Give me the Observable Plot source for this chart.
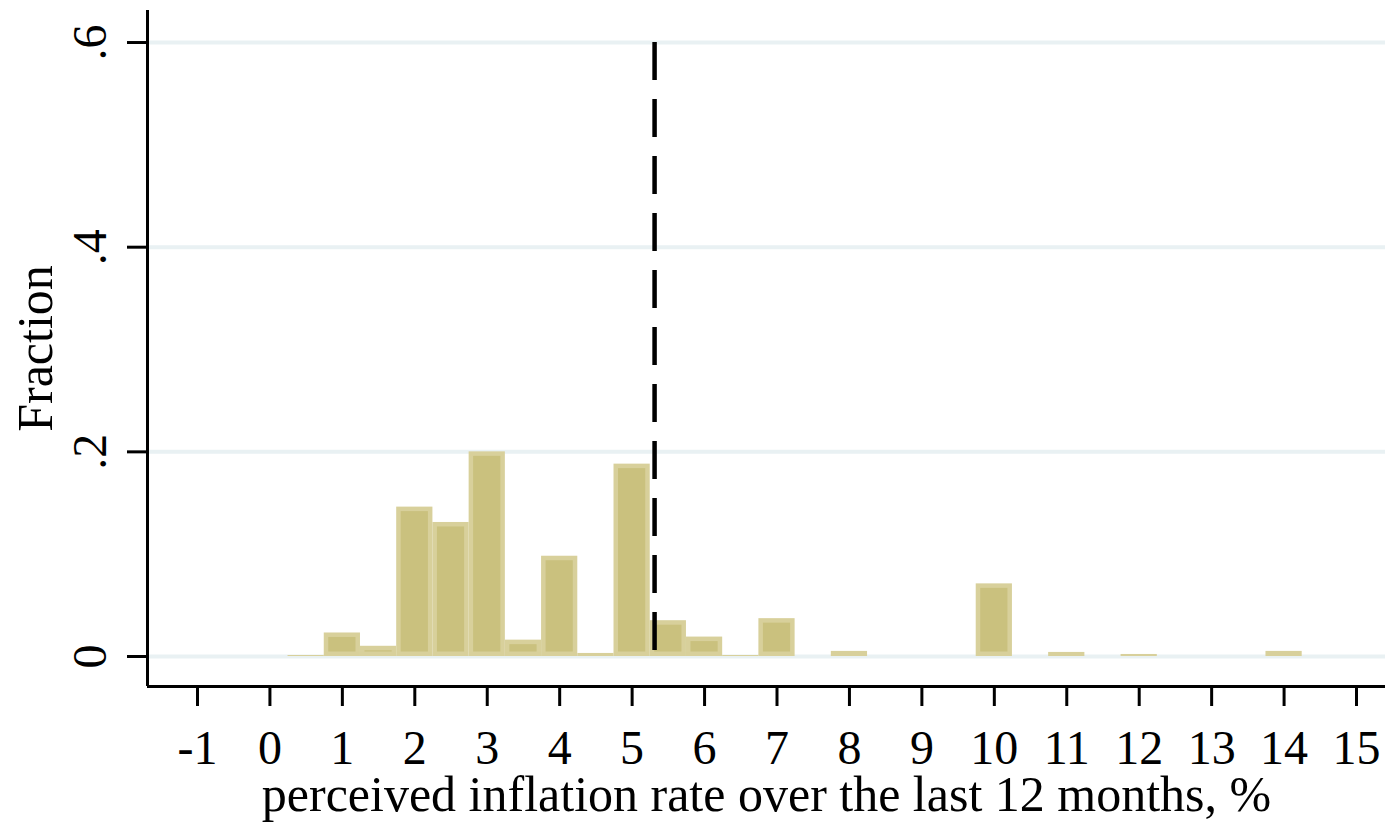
<!DOCTYPE html>
<html>
<head>
<meta charset="utf-8">
<script src="https://cdn.jsdelivr.net/npm/d3@7"></script>
<script src="https://cdn.jsdelivr.net/npm/@observablehq/plot@0.6"></script>
<style>
  html, body { margin: 0; padding: 0; background: #fff; overflow: hidden; }
  #chart svg { display: block; }
</style>
</head>
<body>
<div id="chart"></div>
<script>
// ---- data ----
const binCenters = [0.5, 1, 1.5, 2, 2.5, 3, 3.5, 4, 4.5, 5, 5.5, 6, 6.5, 7, 8, 10, 11, 12, 14];
const fractions  = [0.001, 0.023, 0.010, 0.146, 0.131, 0.200, 0.016, 0.098, 0.003, 0.188, 0.035, 0.019, 0.001, 0.037, 0.005, 0.071, 0.004, 0.002, 0.005];
const binWidth = 0.5;
const meanValue = 5.31;
const xTicks = [-1, 0, 1, 2, 3, 4, 5, 6, 7, 8, 9, 10, 11, 12, 13, 14, 15];
const yTicks = [0, 0.2, 0.4, 0.6];
const yTickLabels = ["0", ".2", ".4", ".6"];
const xTitle = "perceived inflation rate over the last 12 months, %";
const yTitle = "Fraction";

const bins = binCenters.map((c, i) => ({x1: c - binWidth / 2, x2: c + binWidth / 2, y: fractions[i]}));

const xDomain = [-1.69, 15.40];
const yDomain = [-0.0293, 0.6313];
const serif = "'Liberation Serif', 'Times New Roman', Times, serif";

const chart = Plot.plot({
  width: 1385,
  height: 823,
  marginLeft: 147,
  marginRight: 0,
  marginTop: 10,
  marginBottom: 137,
  style: {fontFamily: serif, fontSize: "48px", color: "#000", background: "#fff"},
  x: {domain: xDomain},
  y: {domain: yDomain},
  marks: [
    Plot.gridY(yTicks, {stroke: "#e9f1f3", strokeOpacity: 1, strokeWidth: 4}),
    Plot.rectY(bins, {x1: "x1", x2: "x2", y1: 0, y2: "y", fill: "#d8d09b"}),
    Plot.rectY(bins, {x1: "x1", x2: "x2", y1: 0, y2: "y", fill: "#cac17e", inset: 4.5}),
    Plot.ruleX([meanValue], {y1: 0.6, y2: 0, stroke: "#000", strokeWidth: 4.5, strokeDasharray: "38,19"}),
    Plot.ruleX([xDomain[0]], {stroke: "#000", strokeWidth: 3}),
    Plot.ruleY([yDomain[0]], {stroke: "#000", strokeWidth: 3}),
    Plot.axisX(xTicks, {
      tickSize: 20, tickPadding: 23, strokeWidth: 3, fontSize: 48,
      tickFormat: d => String(d),
      label: null
    }),
    Plot.axisX({
      ticks: [], tickSize: 0, fontSize: 50,
      label: xTitle, labelAnchor: "center", labelOffset: 124, labelArrow: "none"
    }),
    Plot.axisY(yTicks, {
      tickSize: 20, tickPadding: 22, strokeWidth: 3, fontSize: 48, tickRotate: -90,
      tickFormat: (d, i) => yTickLabels[yTicks.indexOf(d)],
      label: null
    }),
    Plot.axisY({
      ticks: [], tickSize: 0, fontSize: 50,
      label: yTitle, labelAnchor: "center", labelOffset: 131, labelArrow: "none"
    })
  ]
});
document.getElementById("chart").appendChild(chart);
</script>
</body>
</html>
